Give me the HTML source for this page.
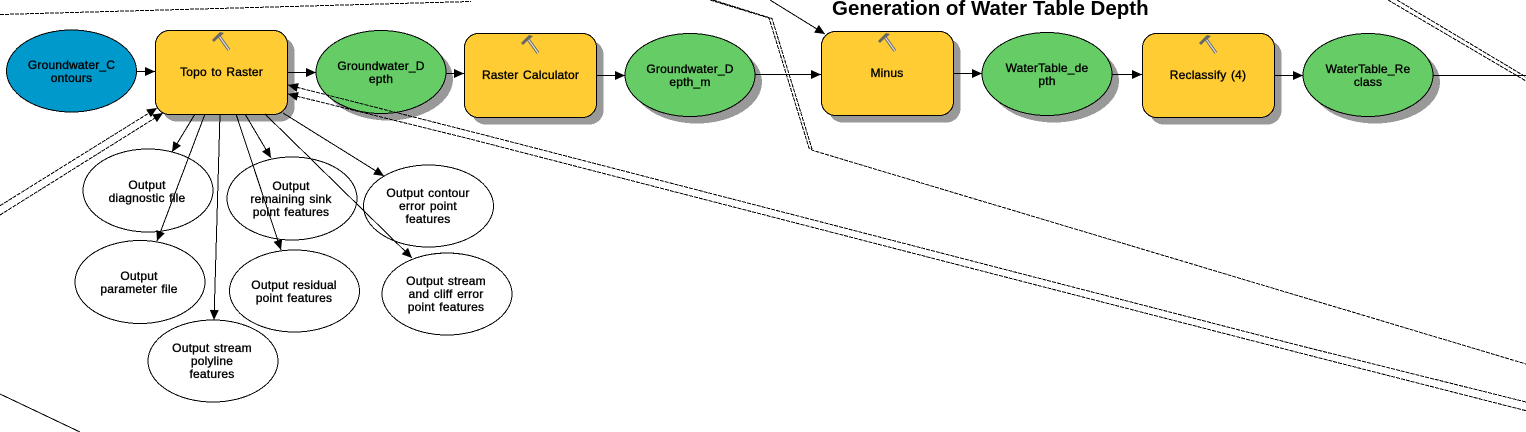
<!DOCTYPE html>
<html><head><meta charset="utf-8">
<style>
html,body{margin:0;padding:0;background:#fff;}
svg{display:block;}
text{font-family:"Liberation Sans",sans-serif;font-size:12px;fill:#000;stroke:#000;stroke-width:.35;text-anchor:middle;letter-spacing:.2px;word-spacing:1px;}
.title{font-size:20.5px;font-weight:bold;stroke:none;letter-spacing:0;word-spacing:0;text-anchor:start;}
.l{stroke:#000;stroke-width:1;fill:none;shape-rendering:crispEdges;}
.d{stroke:#000;stroke-width:1;fill:none;stroke-dasharray:4 1;shape-rendering:crispEdges;}
.a{marker-end:url(#ah);}
.n{stroke:#000;stroke-width:1;shape-rendering:crispEdges;}
</style></head>
<body>
<svg width="1526" height="432" viewBox="0 0 1526 432" xmlns="http://www.w3.org/2000/svg">
<defs>
<marker id="ah" markerUnits="userSpaceOnUse" markerWidth="13" markerHeight="11" refX="11" refY="5" orient="auto">
<path d="M1 0.5 L11 5 L1 9.5 Z" fill="#000"/>
</marker>
<g id="hammer">
<path d="M7 4 L17 18" stroke="#666" stroke-width="3.2" fill="none"/>
<path d="M7 4 L17 18" stroke="#ddd" stroke-width="1.3" fill="none"/>
<path d="M0 8 L8 0 L12 1 L10 3 L7 5 L2 10 Z" fill="#666"/>
</g>
</defs>

<!-- shadows -->
<g fill="#999" shape-rendering="crispEdges">
<rect x="162.5" y="37.5" width="132" height="84" rx="14"/>
<rect x="471.5" y="40.5" width="132" height="84" rx="14"/>
<rect x="828.5" y="38.5" width="132" height="84" rx="14"/>
<rect x="1149.5" y="40.5" width="132" height="84" rx="14"/>
<ellipse cx="388" cy="79" rx="65" ry="41.5"/>
<ellipse cx="697" cy="82" rx="65" ry="41.5"/>
<ellipse cx="1054" cy="81" rx="65" ry="41.5"/>
<ellipse cx="1375" cy="82" rx="65" ry="41.5"/>
</g>

<!-- nodes -->
<ellipse class="n" cx="71.5" cy="71" rx="65" ry="41" fill="#0099CC"/>
<rect class="n" x="155.5" y="30.5" width="132" height="84" rx="14" fill="#FFCC33"/>
<ellipse class="n" cx="381" cy="72" rx="65" ry="41.5" fill="#66CC66"/>
<rect class="n" x="464.5" y="33.5" width="132" height="84" rx="14" fill="#FFCC33"/>
<ellipse class="n" cx="690" cy="75" rx="65" ry="41.5" fill="#66CC66"/>
<rect class="n" x="821.5" y="31.5" width="132" height="84" rx="14" fill="#FFCC33"/>
<ellipse class="n" cx="1047" cy="74" rx="65" ry="41.5" fill="#66CC66"/>
<rect class="n" x="1142.5" y="33.5" width="132" height="84" rx="14" fill="#FFCC33"/>
<ellipse class="n" cx="1368" cy="75" rx="65" ry="41.5" fill="#66CC66"/>

<g fill="none" stroke="#000" stroke-width="1" shape-rendering="crispEdges">
<ellipse cx="148" cy="190.5" rx="65" ry="41.5"/>
<ellipse cx="140" cy="282" rx="65" ry="41.5"/>
<ellipse cx="213" cy="361" rx="65" ry="41"/>
<ellipse cx="292" cy="198.5" rx="65" ry="41.5"/>
<ellipse cx="294.5" cy="291" rx="65" ry="41"/>
<ellipse cx="428.5" cy="206" rx="65" ry="41"/>
<ellipse cx="447" cy="294" rx="65" ry="41"/>
</g>

<!-- hammers -->
<use href="#hammer" x="212" y="32"/>
<use href="#hammer" x="521" y="35"/>
<use href="#hammer" x="878" y="33"/>
<use href="#hammer" x="1199" y="35"/>

<!-- connectors -->
<line class="l a" x1="137" y1="71.5" x2="155" y2="71.5"/>
<line class="l a" x1="288" y1="72.5" x2="316" y2="72.5"/>
<line class="l a" x1="446" y1="73.5" x2="464" y2="73.5"/>
<line class="l a" x1="597" y1="75.5" x2="625" y2="75.5"/>
<line class="l a" x1="755" y1="74.5" x2="821" y2="74.5"/>
<line class="l a" x1="954" y1="73.5" x2="982" y2="73.5"/>
<line class="l a" x1="1112" y1="74.5" x2="1142" y2="74.5"/>
<line class="l a" x1="1275" y1="75.5" x2="1303" y2="75.5"/>
<line class="l" x1="1433" y1="75.5" x2="1526" y2="75.5"/>
<line class="l a" x1="770" y1="0" x2="825" y2="34"/>

<line class="l a" x1="195" y1="114" x2="172" y2="152"/>
<line class="l a" x1="205" y1="114" x2="157" y2="241"/>
<line class="l a" x1="220" y1="114" x2="214" y2="320"/>
<line class="l a" x1="236" y1="114" x2="281" y2="250"/>
<line class="l a" x1="245" y1="114" x2="271" y2="158"/>
<line class="l a" x1="265" y1="114" x2="412" y2="258"/>
<line class="l a" x1="283" y1="113" x2="384" y2="176"/>

<!-- dashed routes -->
<path class="d" d="M0 14.5 L471 1.5"/>
<path class="d a" d="M0 205.7 L157 108"/>
<path class="d a" d="M0 215 L163 113"/>
<path class="d a" d="M1526 402 L1300 345.7 L500 139 L288 85"/>
<path class="d a" d="M1526 410.7 L1300 353 L470 139 L288 94"/>
<path class="d" d="M710 0 L769 18 L809 148 L813 150.5 L1526 364"/>
<path class="d" d="M713 0 L772 18.5 L812 149"/>
<path class="d" d="M1388 0 L1526 81"/>
<path class="d" d="M1397 0 L1526 77"/>
<line class="l" x1="0" y1="394" x2="80" y2="432"/>

<!-- labels -->
<text class="title" x="832" y="15">Generation of Water Table Depth</text>

<text x="71.5" y="69">Groundwater_C</text><text x="71.5" y="82">ontours</text>
<text x="221.5" y="76">Topo to Raster</text>
<text x="381" y="70">Groundwater_D</text><text x="381" y="83">epth</text>
<text x="530.5" y="79">Raster Calculator</text>
<text x="690" y="73">Groundwater_D</text><text x="690" y="86">epth_m</text>
<text x="887" y="77">Minus</text>
<text x="1047" y="72">WaterTable_de</text><text x="1047" y="85">pth</text>
<text x="1208" y="79">Reclassify (4)</text>
<text x="1368" y="73">WaterTable_Re</text><text x="1368" y="86">class</text>

<text x="147" y="189">Output</text><text x="147" y="202">diagnostic file</text>
<text x="139" y="280">Output</text><text x="139" y="293">parameter file</text>
<text x="212" y="352">Output stream</text><text x="212" y="365">polyline</text><text x="212" y="378">features</text>
<text x="291" y="190">Output</text><text x="291" y="203">remaining sink</text><text x="291" y="216">point features</text>
<text x="294" y="289">Output residual</text><text x="294" y="302">point features</text>
<text x="428" y="197">Output contour</text><text x="428" y="210">error point</text><text x="428" y="223">features</text>
<text x="446" y="285">Output stream</text><text x="446" y="298">and cliff error</text><text x="446" y="311">point features</text>
</svg>
</body></html>
